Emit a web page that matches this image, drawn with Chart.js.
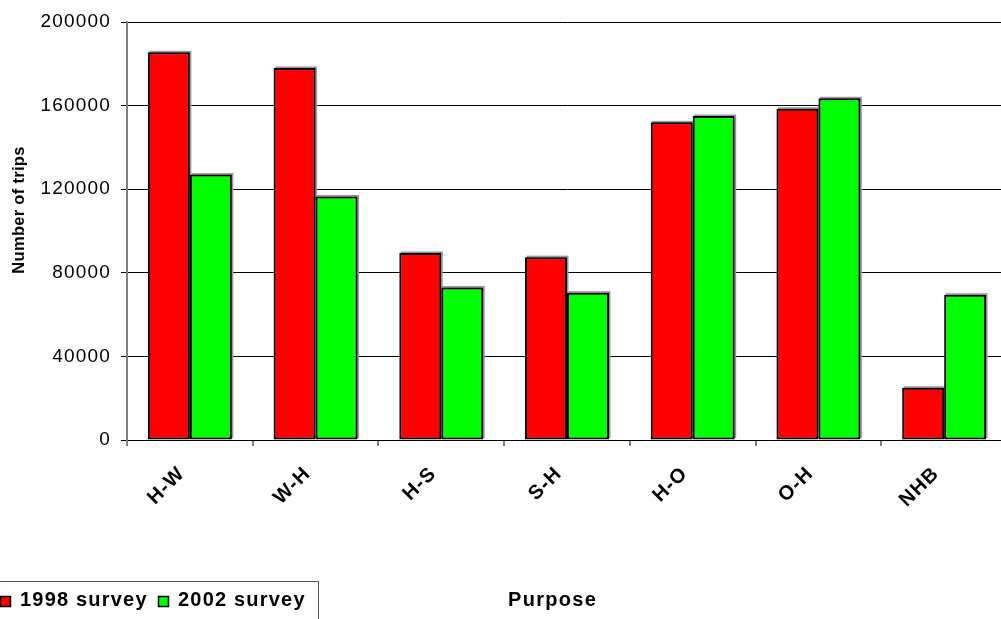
<!DOCTYPE html>
<html>
<head>
<meta charset="utf-8">
<script src="https://cdn.jsdelivr.net/npm/chart.js@4.4.1/dist/chart.umd.min.js"></script>
<style>
  html, body { margin: 0; padding: 0; background: #fff; overflow: hidden; }
  #wrap { position: relative; width: 1008px; height: 619px; }
</style>
</head>
<body>
<div id="wrap"><canvas id="chart"></canvas></div>
<script>
// Trips by purpose, two household surveys
const purposes = ['H-W', 'W-H', 'H-S', 'S-H', 'H-O', 'O-H', 'NHB'];
const survey1998 = [185500, 178000, 89500, 87500, 152000, 158500, 25000];
const survey2002 = [127000, 116500, 73000, 70500, 155000, 163500, 69500];
const yTicks = [0, 40000, 80000, 120000, 160000, 200000];
const seriesNames = ['1998 survey', '2002 survey'];
const seriesColors = ['#FF0000', '#00FF00'];

const FONT = '"Liberation Sans", Arial, sans-serif';

// Soft grey drop shadow behind each bar
const barShadow = {
  id: 'barShadow',
  beforeDatasetsDraw(chart) {
    const ctx = chart.ctx;
    ctx.save();
    ctx.fillStyle = '#999';
    chart.data.datasets.forEach((ds, i) => {
      chart.getDatasetMeta(i).data.forEach(bar => {
        const p = bar.getProps(['x', 'y', 'base', 'width'], true);
        ctx.fillRect(p.x - p.width / 2 + 1.5, p.y - 1.5, p.width, p.base - p.y);
      });
    });
    ctx.restore();
  }
};

// Axis titles and the boxed legend at the foot of the chart
const decorations = {
  id: 'decorations',
  beforeDraw(chart) {
    chart.ctx.letterSpacing = '1.2px';
  },
  afterDraw(chart) {
    const ctx = chart.ctx;
    ctx.save();
    ctx.fillStyle = '#000';

    // y-axis title
    ctx.save();
    ctx.letterSpacing = '0.3px';
    ctx.translate(19, 210);
    ctx.rotate(-Math.PI / 2);
    ctx.font = 'bold 16.5px ' + FONT;
    ctx.textAlign = 'center';
    ctx.textBaseline = 'middle';
    ctx.fillText('Number of trips', 0, 0);
    ctx.restore();

    // x-axis title
    ctx.letterSpacing = '1.3px';
    ctx.font = 'bold 20px ' + FONT;
    ctx.textAlign = 'left';
    ctx.textBaseline = 'middle';
    ctx.fillText('Purpose', 508, 600);

    // legend
    ctx.letterSpacing = '1.2px';
    ctx.strokeStyle = '#555';
    ctx.lineWidth = 1;
    ctx.strokeRect(-1.5, 581.5, 320, 60);
    const entries = [
      { sw: 0, tx: 20 },
      { sw: 158, tx: 178 }
    ];
    entries.forEach((e, i) => {
      ctx.fillStyle = seriesColors[i];
      ctx.fillRect(e.sw, 596, 11, 11);
      ctx.strokeStyle = '#000';
      ctx.lineWidth = 1.5;
      ctx.strokeRect(e.sw + 0.5, 596.5, 10, 10);
      ctx.fillStyle = '#000';
      ctx.fillText(seriesNames[i], e.tx, 600);
    });
    ctx.restore();
  }
};

new Chart(document.getElementById('chart'), {
  type: 'bar',
  data: {
    labels: purposes,
    datasets: [
      { label: seriesNames[0], data: survey1998, backgroundColor: seriesColors[0] },
      { label: seriesNames[1], data: survey2002, backgroundColor: seriesColors[1] }
    ]
  },
  options: {
    responsive: true,
    maintainAspectRatio: false,
    animation: false,
    devicePixelRatio: 1,
    layout: { padding: { top: 22, right: 1, left: 0, bottom: 0 } },
    datasets: {
      bar: {
        borderColor: '#000',
        borderWidth: 2,
        borderSkipped: false,
        categoryPercentage: 0.668,
        barPercentage: 1
      }
    },
    plugins: {
      legend: { display: false },
      tooltip: { enabled: false }
    },
    scales: {
      x: {
        offset: true,
        grid: {
          offset: true,
          drawOnChartArea: false,
          drawTicks: true,
          tickLength: 6,
          color: '#808080',
          lineWidth: 2
        },
        border: { display: true, color: '#000', width: 1 },
        ticks: {
          minRotation: 45,
          maxRotation: 45,
          padding: 16,
          labelOffset: -8,
          color: '#000',
          font: { family: FONT, size: 20, weight: 'bold' }
        },
        afterFit(scale) { scale.height = 179; }
      },
      y: {
        min: 0,
        max: 200000,
        afterBuildTicks(scale) { scale.ticks = yTicks.map(v => ({ value: v })); },
        grid: {
          color: '#000',
          lineWidth: 1,
          drawTicks: true,
          tickLength: 6
        },
        border: { display: true, color: '#808080', width: 2 },
        ticks: {
          padding: 10,
          color: '#000',
          font: { family: FONT, size: 19 },
          callback: v => String(v)
        },
        afterFit(scale) { scale.width = 127; }
      }
    }
  },
  plugins: [barShadow, decorations]
});
</script>
</body>
</html>
